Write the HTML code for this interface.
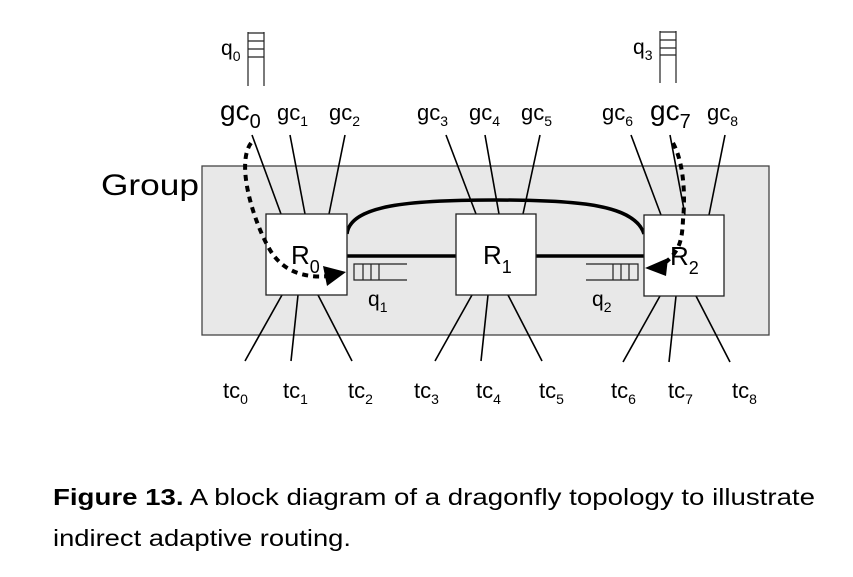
<!DOCTYPE html>
<html><head><meta charset="utf-8"><style>
html,body{margin:0;padding:0;background:#fff;width:853px;height:577px;overflow:hidden}
svg{display:block;font-family:"Liberation Sans",sans-serif}
</style></head><body>
<svg width="853" height="577" viewBox="0 0 853 577">
<rect x="202" y="166" width="567" height="169" fill="#e8e8e8" stroke="#444" stroke-width="1.3"/>
<text x="101" y="195" font-size="30" textLength="98" lengthAdjust="spacingAndGlyphs">Group</text>
<!-- top connector lines -->
<g stroke="#000" stroke-width="1.6">
<line x1="252" y1="135" x2="281" y2="214"/><line x1="290" y1="135" x2="305" y2="214"/><line x1="345" y1="135" x2="329" y2="214"/>
<line x1="446" y1="135" x2="476" y2="214"/><line x1="485" y1="135" x2="499" y2="214"/><line x1="540" y1="135" x2="523" y2="214"/>
<line x1="631" y1="135" x2="661" y2="215"/><line x1="670" y1="135" x2="685" y2="215"/><line x1="725" y1="135" x2="709" y2="215"/>
<line x1="282" y1="295" x2="245" y2="361"/><line x1="298" y1="295" x2="291" y2="361"/><line x1="318" y1="295" x2="352" y2="361"/>
<line x1="472" y1="295" x2="435" y2="361"/><line x1="488" y1="295" x2="481" y2="361"/><line x1="508" y1="295" x2="542" y2="361"/>
<line x1="660" y1="296" x2="623" y2="362"/><line x1="676" y1="296" x2="669" y2="362"/><line x1="696" y1="296" x2="730" y2="362"/>
</g>
<!-- links -->
<path d="M347,234 C350,205 410,200 495,200 C580,200 635,205 644,234" fill="none" stroke="#000" stroke-width="3.5"/>
<line x1="347" y1="256" x2="456" y2="256" stroke="#000" stroke-width="3.5"/>
<line x1="536" y1="256" x2="644" y2="256" stroke="#000" stroke-width="3.5"/>
<!-- routers -->
<g fill="#fff" stroke="#222" stroke-width="1.3">
<rect x="266" y="214" width="81" height="81"/><rect x="456" y="214" width="80" height="81"/><rect x="644" y="215" width="80" height="81"/>
</g>
<text x="291" y="264" font-size="26">R<tspan font-size="18" dy="9">0</tspan></text>
<text x="483" y="264" font-size="26">R<tspan font-size="18" dy="9">1</tspan></text>
<text x="670" y="265" font-size="26">R<tspan font-size="18" dy="9">2</tspan></text>
<!-- queues -->
<g stroke="#222" stroke-width="1.2" fill="none">
<path d="M248,32 V86 M264,32 V86 M248,33 H264 M248,41 H264 M248,49 H264 M248,57 H264"/>
<path d="M660,31 V83 M676,31 V83 M660,32 H676 M660,40 H676 M660,48 H676 M660,55 H676"/>
<path d="M407,264 H354 V280 H407 M363,264 V280 M371,264 V280 M379,264 V280"/>
<path d="M586,264 H638 V280 H586 M613,264 V280 M621,264 V280 M629,264 V280"/>
</g>
<text x="221" y="55" font-size="21">q<tspan font-size="14" dy="6">0</tspan></text>
<text x="633" y="54" font-size="21">q<tspan font-size="14" dy="6">3</tspan></text>
<text x="368" y="306" font-size="21">q<tspan font-size="14" dy="6">1</tspan></text>
<text x="592" y="306" font-size="21">q<tspan font-size="14" dy="6">2</tspan></text>
<!-- dashed paths -->
<g fill="none" stroke="#000" stroke-width="4" stroke-dasharray="6,5">
<path d="M251,143 C235,165 255,225 270,250 C285,275 310,278 330,276"/>
<path d="M673,143 C685,165 685,200 683,220 C682,240 680,250 666,262"/>
</g>
<polygon points="346,272 323,266 327,286" fill="#000"/>
<polygon points="645,268 668,258 666,276" fill="#000"/>
<!-- gc labels -->
<text x="220" y="120" font-size="28">gc<tspan font-size="20" dy="8">0</tspan></text>
<text x="277" y="120" font-size="22">gc<tspan font-size="14" dy="6">1</tspan></text>
<text x="329" y="120" font-size="22">gc<tspan font-size="14" dy="6">2</tspan></text>
<text x="417" y="120" font-size="22">gc<tspan font-size="14" dy="6">3</tspan></text>
<text x="469" y="120" font-size="22">gc<tspan font-size="14" dy="6">4</tspan></text>
<text x="521" y="120" font-size="22">gc<tspan font-size="14" dy="6">5</tspan></text>
<text x="602" y="120" font-size="22">gc<tspan font-size="14" dy="6">6</tspan></text>
<text x="650" y="120" font-size="28">gc<tspan font-size="20" dy="8">7</tspan></text>
<text x="707" y="120" font-size="22">gc<tspan font-size="14" dy="6">8</tspan></text>
<!-- tc labels -->
<g font-size="22">
<text x="223" y="398">tc<tspan font-size="14" dy="6">0</tspan></text>
<text x="283" y="398">tc<tspan font-size="14" dy="6">1</tspan></text>
<text x="348" y="398">tc<tspan font-size="14" dy="6">2</tspan></text>
<text x="414" y="398">tc<tspan font-size="14" dy="6">3</tspan></text>
<text x="476" y="398">tc<tspan font-size="14" dy="6">4</tspan></text>
<text x="539" y="398">tc<tspan font-size="14" dy="6">5</tspan></text>
<text x="611" y="398">tc<tspan font-size="14" dy="6">6</tspan></text>
<text x="668" y="398">tc<tspan font-size="14" dy="6">7</tspan></text>
<text x="732" y="398">tc<tspan font-size="14" dy="6">8</tspan></text>
</g>
<text x="53" y="505" font-size="23" textLength="762" lengthAdjust="spacingAndGlyphs"><tspan font-weight="bold">Figure 13.</tspan> A block diagram of a dragonfly topology to illustrate</text>
<text x="53" y="546" font-size="23" textLength="298" lengthAdjust="spacingAndGlyphs">indirect adaptive routing.</text>
</svg>
</body></html>
